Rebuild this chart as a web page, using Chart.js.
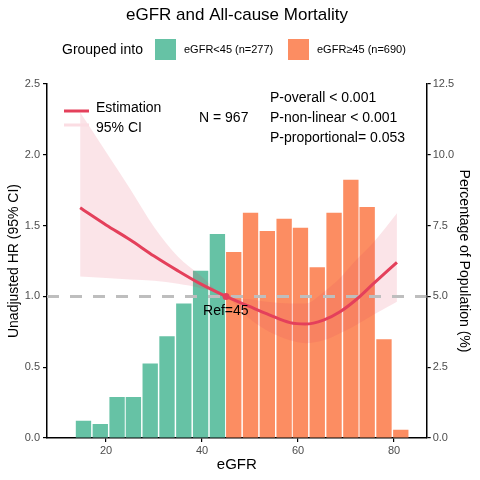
<!DOCTYPE html>
<html>
<head>
<meta charset="utf-8">
<title>eGFR and All-cause Mortality</title>
<script src="https://cdn.jsdelivr.net/npm/chart.js@4.4.1/dist/chart.umd.min.js"></script>
<style>
  html, body { margin: 0; padding: 0; background: #fff; }
</style>
</head>
<body>
<canvas id="egfrChart" width="480" height="480"></canvas>
<script>
// histogram bins (eGFR bin centres) and share of population (%)
const lowBins = [15.3, 18.8, 22.3, 25.7, 29.2, 32.7, 36.2, 39.7, 43.2];
const lowPct = [0.61, 0.49, 1.45, 1.45, 2.63, 3.59, 4.75, 5.91, 7.20];
const highBins = [46.6, 50.1, 53.6, 57.1, 60.5, 64.0, 67.5, 71.0, 74.4, 77.9, 81.4];
const highPct = [6.57, 7.95, 7.31, 7.74, 7.42, 6.03, 7.95, 9.12, 8.16, 3.49, 0.29];

// restricted cubic spline estimate, HR with 95% CI
const curveX = [14.6, 20, 25, 30, 35, 39.6, 45, 50, 54, 58.3, 61.5, 65.3, 68.75, 72.2, 75.7, 80.6];
const hrEst  = [1.626, 1.505, 1.40, 1.285, 1.18, 1.09, 1.0, 0.927, 0.87, 0.815, 0.805, 0.833, 0.892, 0.98, 1.09, 1.24];
const hrLow  = [1.14, 1.13, 1.12, 1.11, 1.09, 1.06, 1.0, 0.84, 0.75, 0.69, 0.67, 0.69, 0.74, 0.80, 0.87, 0.963];
const hrHigh = [2.30, 2.02, 1.76, 1.49, 1.28, 1.15, 1.0, 0.98, 0.96, 0.95, 0.95, 1.03, 1.13, 1.26, 1.38, 1.587];

const refX = 45;
const xRange = [7.7, 86.8];
const xTicks = [20, 40, 60, 80];

const groupLabels = ['eGFR<45 (n=277)', 'eGFR\u226545 (n=690)'];
const statLines = ['P-overall < 0.001', 'P-non-linear < 0.001', 'P-proportional= 0.053'];
const nText = 'N = 967';

const GREEN = '#66C2A5';
const ORANGE = '#FC8D62';
const RED = '#E4405B';
const FONT = '"Liberation Sans", Arial, sans-serif';

Chart.defaults.font.family = FONT;

const pts = (xs, ys) => xs.map((x, i) => ({ x: x, y: ys[i] }));

const overlayText = {
    id: 'overlayText',
    afterDraw(chart) {
        const ctx = chart.ctx;
        const area = chart.chartArea;
        ctx.save();
        ctx.textBaseline = 'middle';

        // main title
        ctx.fillStyle = '#000';
        ctx.font = '17px ' + FONT;
        ctx.textAlign = 'center';
        ctx.fillText('eGFR and All-cause Mortality', 237, 15);

        // group legend
        ctx.textAlign = 'left';
        ctx.font = '14px ' + FONT;
        ctx.fillText('Grouped into', 62, 50);
        ctx.fillStyle = GREEN;
        ctx.fillRect(155, 39, 21, 21);
        ctx.fillStyle = ORANGE;
        ctx.fillRect(288, 39, 21, 21);
        ctx.fillStyle = '#000';
        ctx.font = '11px ' + FONT;
        ctx.fillText(groupLabels[0], 184, 50);
        ctx.fillText(groupLabels[1], 317, 50);

        // inner legend
        const lx = area.left + 17;
        ctx.lineWidth = 3;
        ctx.strokeStyle = RED;
        ctx.beginPath();
        ctx.moveTo(lx, area.top + 27);
        ctx.lineTo(lx + 25, area.top + 27);
        ctx.stroke();
        ctx.strokeStyle = '#FBDDE3';
        ctx.beginPath();
        ctx.moveTo(lx, area.top + 41);
        ctx.lineTo(lx + 25, area.top + 41);
        ctx.stroke();
        ctx.font = '14px ' + FONT;
        ctx.fillText('Estimation', lx + 32, area.top + 24);
        ctx.fillText('95% CI', lx + 32, area.top + 44);

        ctx.fillText(nText, 199, area.top + 34);
        statLines.forEach((s, i) => ctx.fillText(s, 270, area.top + 14 + i * 20));

        // reference label
        const px = chart.scales.x.getPixelForValue(refX);
        const py = chart.scales.y.getPixelForValue(1);
        ctx.fillText('Ref=' + refX, px - 23, py + 15);
        ctx.restore();
    }
};

const axisTick = { color: '#4D4D4D', font: { size: 11 } };
const axisGrid = { drawOnChartArea: false, drawTicks: true, tickLength: 4, color: '#000', lineWidth: 1.2 };
const axisBorder = { display: true, color: '#000', width: 1.5 };

new Chart(document.getElementById('egfrChart'), {
    type: 'bar',
    data: {
        datasets: [
            {
                type: 'line',
                label: 'Ref point',
                data: [{ x: refX, y: 1 }],
                yAxisID: 'y',
                showLine: false,
                pointRadius: 3.5,
                pointBackgroundColor: RED,
                pointBorderWidth: 0,
                order: 0
            },
            {
                type: 'line',
                label: 'Estimation',
                data: pts(curveX, hrEst),
                yAxisID: 'y',
                borderColor: RED,
                borderWidth: 3,
                pointRadius: 0,
                cubicInterpolationMode: 'monotone',
                fill: false,
                order: 1
            },
            {
                type: 'line',
                label: 'Reference',
                data: [{ x: xRange[0], y: 1 }, { x: xRange[1], y: 1 }],
                yAxisID: 'y',
                borderColor: '#BEBEBE',
                borderWidth: 3,
                borderDash: [12, 11],
                pointRadius: 0,
                fill: false,
                order: 2
            },
            {
                type: 'line',
                label: 'CI low',
                data: pts(curveX, hrLow),
                yAxisID: 'y',
                borderWidth: 0,
                pointRadius: 0,
                cubicInterpolationMode: 'monotone',
                fill: false,
                order: 5
            },
            {
                type: 'line',
                label: '95% CI',
                data: pts(curveX, hrHigh),
                yAxisID: 'y',
                borderWidth: 0,
                pointRadius: 0,
                cubicInterpolationMode: 'monotone',
                backgroundColor: 'rgba(228, 64, 91, 0.14)',
                fill: '-1',
                order: 4
            },
            {
                label: groupLabels[0],
                data: pts(lowBins, lowPct),
                yAxisID: 'y2',
                backgroundColor: GREEN,
                borderWidth: 0,
                grouped: false,
                categoryPercentage: 1,
                barPercentage: 0.94,
                order: 10
            },
            {
                label: groupLabels[1],
                data: pts(highBins, highPct),
                yAxisID: 'y2',
                backgroundColor: ORANGE,
                borderWidth: 0,
                grouped: false,
                categoryPercentage: 1,
                barPercentage: 0.94,
                order: 10
            }
        ]
    },
    options: {
        responsive: false,
        animation: false,
        layout: { padding: { top: 84 } },
        plugins: {
            legend: { display: false },
            tooltip: { enabled: false }
        },
        scales: {
            x: {
                type: 'linear',
                min: xRange[0],
                max: xRange[1],
                offset: false,
                afterBuildTicks: scale => { scale.ticks = xTicks.map(v => ({ value: v })); },
                afterFit: scale => { scale.height = 42; },
                ticks: Object.assign({ padding: 2 }, axisTick),
                grid: Object.assign({ offset: false }, axisGrid),
                border: axisBorder,
                title: { display: true, text: 'eGFR', color: '#000', font: { size: 15 }, padding: { top: 0, bottom: 6 } }
            },
            y: {
                position: 'left',
                min: 0,
                max: 2.5,
                afterFit: scale => { scale.width = 47; },
                ticks: Object.assign({ stepSize: 0.5, padding: 3, callback: v => v.toFixed(1) }, axisTick),
                grid: axisGrid,
                border: axisBorder,
                title: { display: true, text: 'Unadjusted HR (95% CI)', color: '#000', font: { size: 14 }, padding: { top: 5.6, bottom: 0 } }
            },
            y2: {
                position: 'right',
                min: 0,
                max: 12.5,
                afterFit: scale => { scale.width = 53.3; },
                ticks: Object.assign({ stepSize: 2.5, padding: 2, callback: v => v.toFixed(1) }, axisTick),
                grid: axisGrid,
                border: axisBorder,
                title: { display: true, text: 'Percentage of Population (%)', color: '#000', font: { size: 14 }, padding: { top: 8, bottom: 0 } }
            }
        }
    },
    plugins: [overlayText]
});
</script>
</body>
</html>
